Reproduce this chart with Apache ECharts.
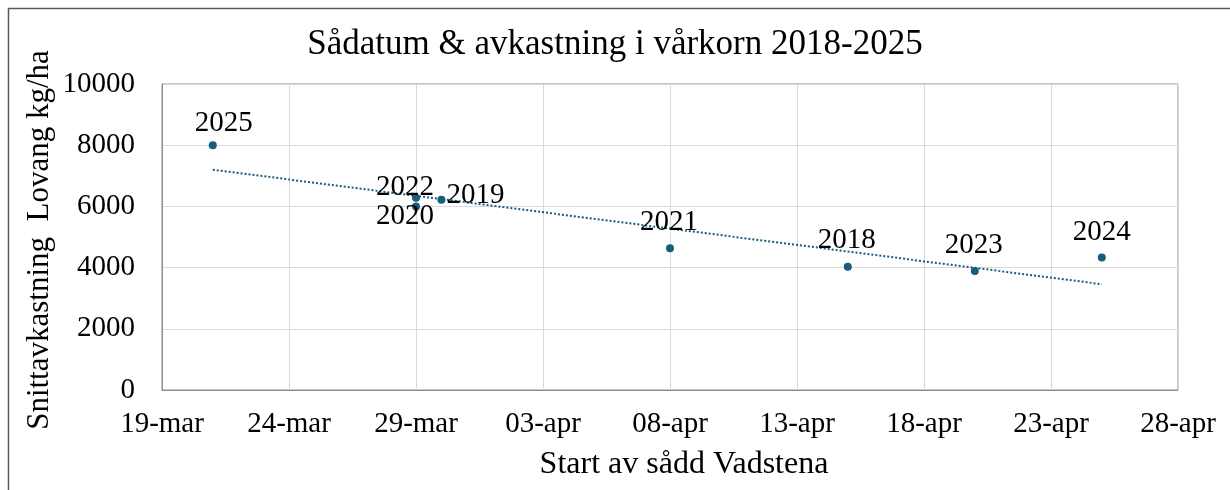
<!DOCTYPE html>
<html>
<head>
<meta charset="utf-8">
<script src="https://cdn.jsdelivr.net/npm/echarts@6/dist/echarts.min.js"></script>
<style>
  html, body { margin: 0; padding: 0; background: #fff; }
  #chart { width: 1230px; height: 490px; }
</style>
</head>
<body>
<div id="chart"></div>
<script>
// data
var years = ['2018', '2019', '2020', '2021', '2022', '2023', '2024', '2025'];
var sowDates = ['15-apr', '30-mar', '29-mar', '08-apr', '29-mar', '20-apr', '25-apr', '21-mar'];
var yields = [4030, 6220, 6000, 4630, 6280, 3890, 4330, 8000];
var xTickLabels = ['19-mar', '24-mar', '29-mar', '03-apr', '08-apr', '13-apr', '18-apr', '23-apr', '28-apr'];
var yTicks = [0, 2000, 4000, 6000, 8000, 10000];

// label placement per year (offset of text centre from the point)
var labelOffsets = {
  '2018': [-1, -26], '2019': [34, -4], '2020': [-11, 10], '2021': [-1, -26],
  '2022': [-11, -10], '2023': [-1, -26], '2024': [0, -25], '2025': [11, -22]
};

var FONT = '"Liberation Serif", "Times New Roman", serif';
var COLOR = '#1b5b7c';

// days since 19-mar
function dayIndex(s) {
  var d = parseInt(s.slice(0, 2), 10);
  return s.indexOf('apr') > 0 ? d + 12 : d - 19;
}

var points = years.map(function (y, i) {
  return {
    value: [dayIndex(sowDates[i]), yields[i]],
    name: y,
    label: { offset: labelOffsets[y] }
  };
});

// linear trendline (least squares), like Excel's
var xs = points.map(function (p) { return p.value[0]; });
var n = xs.length;
var mx = xs.reduce(function (a, b) { return a + b; }, 0) / n;
var my = yields.reduce(function (a, b) { return a + b; }, 0) / n;
var sxy = 0, sxx = 0;
for (var i = 0; i < n; i++) {
  sxy += (xs[i] - mx) * (yields[i] - my);
  sxx += (xs[i] - mx) * (xs[i] - mx);
}
var slope = sxy / sxx;
var icpt = my - slope * mx;
var x0 = Math.min.apply(null, xs), x1 = Math.max.apply(null, xs);
var trend = [[x0, icpt + slope * x0], [x1, icpt + slope * x1]];

var chart = echarts.init(document.getElementById('chart'));

var option = {
  animation: false,
  backgroundColor: '#fff',
  title: {
    text: 'Sådatum & avkastning i vårkorn 2018-2025',
    left: 'center',
    top: 22,
    textStyle: { fontFamily: FONT, fontSize: 35, fontWeight: 'normal', color: '#000' }
  },
  grid: {
    left: 162, right: 52, top: 84, bottom: 100,
    show: true, borderColor: '#8c8c8c', borderWidth: 1
  },
  xAxis: {
    type: 'value',
    min: 0, max: 40, interval: 5,
    axisLine: { show: true, lineStyle: { color: '#8c8c8c' } },
    axisTick: { show: false },
    splitLine: { show: true, lineStyle: { color: '#d9d9d9' } },
    axisLabel: {
      margin: 20,
      fontFamily: FONT, fontSize: 29, color: '#000',
      formatter: function (v) { return xTickLabels[Math.round(v / 5)]; }
    }
  },
  yAxis: {
    type: 'value',
    min: yTicks[0], max: yTicks[yTicks.length - 1], interval: 2000,
    axisLine: { show: true, lineStyle: { color: '#8c8c8c' } },
    axisTick: { show: false },
    splitLine: { show: true, lineStyle: { color: '#d9d9d9' } },
    axisLabel: {
      margin: 27, fontFamily: FONT, fontSize: 29, color: '#000',
      formatter: function (v) { return String(v); }
    }
  },
  graphic: [
    {
      type: 'rect',
      shape: { x: 8.5, y: 8.5, width: 1400, height: 800 },
      style: { fill: 'none', stroke: '#595959', lineWidth: 1.5 },
      z: -1
    },
    {
      type: 'text',
      x: 684, y: 465,
      style: {
        text: 'Start av sådd Vadstena', fontFamily: FONT, fontSize: 32,
        fill: '#000', align: 'center', verticalAlign: 'middle'
      }
    },
    {
      type: 'text',
      x: 40, y: 240, rotation: Math.PI / 2,
      style: {
        text: 'Snittavkastning  Lovang kg/ha', fontFamily: FONT, fontSize: 31,
        fill: '#000', align: 'center', verticalAlign: 'middle'
      }
    }
  ],
  series: [
    {
      type: 'line',
      data: trend,
      symbol: 'none',
      lineStyle: { color: COLOR, width: 2, type: [2, 2] },
      z: 1,
      silent: true
    },
    {
      type: 'scatter',
      data: points,
      symbolSize: 8,
      itemStyle: { color: COLOR, opacity: 1 },
      z: 2,
      label: {
        show: true,
        position: 'inside',
        formatter: '{b}',
        fontFamily: FONT, fontSize: 29, color: '#000'
      }
    }
  ]
};

chart.setOption(option);
</script>
</body>
</html>
